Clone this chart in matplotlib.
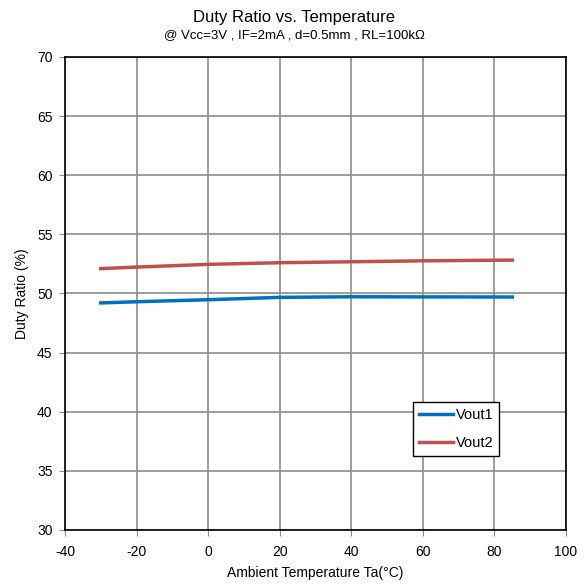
import matplotlib
matplotlib.use("Agg")
import matplotlib.pyplot as plt

plt.rcParams['font.family'] = ['Liberation Sans', 'DejaVu Sans']
plt.rcParams['axes.unicode_minus'] = False

temp = [-30, -20, 0, 20, 40, 60, 85]
vout1 = [49.2, 49.3, 49.47, 49.67, 49.72, 49.71, 49.7]
vout2 = [52.1, 52.23, 52.46, 52.6, 52.68, 52.76, 52.82]

fig = plt.figure(figsize=(5.88, 5.84), dpi=100)
ax = fig.add_axes([0.1105, 0.0925, 0.852, 0.81])

ax.plot(temp, vout1, color='#0070c0', lw=2.5, label='Vout1')
ax.plot(temp, vout2, color='#c0504d', lw=2.5, label='Vout2')

ax.set_xlim(-40, 100)
ax.set_ylim(30, 70)
ax.set_xticks(range(-40, 101, 20))
ax.set_yticks(range(30, 71, 5))
ax.grid(True, color='#8c8c8c', lw=1.2)
ax.set_axisbelow(True)
for s in ax.spines.values():
    s.set_color('black')
    s.set_linewidth(1.2)
ax.tick_params(direction='out', length=4, labelsize=10, color='#8c8c8c')
ax.tick_params(axis='x', pad=7)
ax.tick_params(axis='y', pad=5)

ax.set_xlabel('Ambient Temperature Ta(°C)', fontsize=10, labelpad=5)
ax.set_ylabel('Duty Ratio (%)', fontsize=10, labelpad=6)

fig.text(0.5, 0.962, 'Duty Ratio vs. Temperature', ha='center', fontsize=12)
fig.text(0.5, 0.935, '@ Vcc=3V , IF=2mA , d=0.5mm , RL=100kΩ', ha='center', fontsize=9.5)

leg = ax.legend(loc='upper left', bbox_to_anchor=(0.695, 0.27), fancybox=False,
                edgecolor='black', framealpha=1, fontsize=10.5, handlelength=2.35,
                borderpad=0.4, labelspacing=0.95, handletextpad=0.15,
                borderaxespad=0)
leg.get_frame().set_linewidth(1.0)

fig.savefig('out.png', dpi=100)
